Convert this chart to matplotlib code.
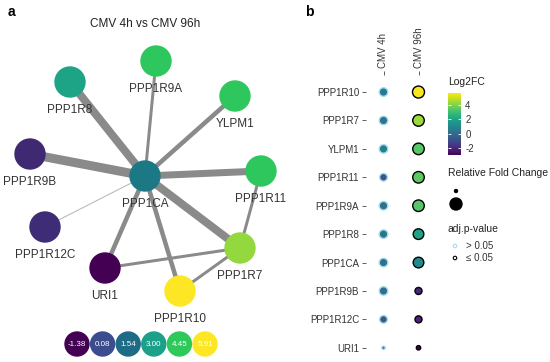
import matplotlib
matplotlib.use("Agg")
import matplotlib.pyplot as plt
import numpy as np
from matplotlib.colors import LinearSegmentedColormap, Normalize
from matplotlib.cm import ScalarMappable
from matplotlib.patches import Circle

plt.rcParams['font.family'] = ['Liberation Sans', 'DejaVu Sans']
plt.rcParams['axes.unicode_minus'] = False

W, H = 550, 362

# ---- panel a: interaction network ----
nodes = ["PPP1CA", "PPP1R9A", "PPP1R8", "YLPM1", "PPP1R9B",
         "PPP1R11", "PPP1R12C", "URI1", "PPP1R10", "PPP1R7"]
node_fc = [1.90, 4.40, 3.10, 4.40, -0.60, 4.40, -0.55, -1.38, 5.91, 5.15]
# layout of the network (pixels)
node_x = [145, 156, 70, 235, 30, 261, 45, 105, 180, 240]
node_y = [176, 61, 82, 96, 154, 171, 227, 268, 291, 248]

edge_a = ["PPP1CA"] * 9 + ["PPP1R11", "URI1", "PPP1R10"]
edge_b = ["PPP1R8", "PPP1R9A", "YLPM1", "PPP1R9B", "PPP1R11", "PPP1R12C",
          "URI1", "PPP1R10", "PPP1R7", "PPP1R7", "PPP1R7", "PPP1R7"]
edge_score = [8, 3, 4.5, 9, 7, 1, 4.5, 4.5, 8, 3, 3, 3]

legend_vals = [-1.38, 0.08, 1.54, 3.00, 4.45, 5.91]
legend_cols = ["#440154", "#3b4d8f", "#1e6b85", "#1ca08a", "#2ec95b", "#fde725"]

# ---- panel b: dot plot ----
genes = ["PPP1R10", "PPP1R7", "YLPM1", "PPP1R11", "PPP1R9A",
         "PPP1R8", "PPP1CA", "PPP1R9B", "PPP1R12C", "URI1"]
conditions = ["CMV 4h", "CMV 96h"]
fc_4h = [0.5, 0.4, 0.7, -0.7, 0.3, 0.4, 0.2, 0.2, -0.6, -0.4]
fc_96h = [5.6, 4.4, 3.4, 3.5, 3.4, 2.0, 1.1, -2.0, -2.1, -3.0]
rel_4h = [0.62, 0.62, 0.62, 0.52, 0.62, 0.62, 0.62, 0.62, 0.52, 0.05]
rel_96h = [1.0, 0.95, 0.95, 0.95, 0.95, 0.85, 0.85, 0.45, 0.45, 0.15]
sig_4h = [False] * 10
sig_96h = [True] * 10


def fx(x):
    return x / W


def fy(y):
    return 1 - y / H


def dot_size(rel):
    d = 3 + 9 * np.asarray(rel)  # diameter in px
    return (d * 0.72) ** 2


fig = plt.figure(figsize=(5.5, 3.62), dpi=100)

# background axes in pixel coordinates for the network and legends
ax = fig.add_axes([0, 0, 1, 1])
ax.set_xlim(0, W)
ax.set_ylim(H, 0)
ax.axis("off")

stops = [(v - legend_vals[0]) / (legend_vals[-1] - legend_vals[0]) for v in legend_vals]
net_cmap = LinearSegmentedColormap.from_list("cyto", list(zip(stops, legend_cols)))
net_norm = Normalize(legend_vals[0], legend_vals[-1])

pos = {n: (x, y) for n, x, y in zip(nodes, node_x, node_y)}
for a, b, s in zip(edge_a, edge_b, edge_score):
    col = "#b5b5b5" if s < 2 else "#8a8a8a"
    ax.plot([pos[a][0], pos[b][0]], [pos[a][1], pos[b][1]],
            color=col, lw=s * 0.72, solid_capstyle="butt", zorder=1)

for n, v in zip(nodes, node_fc):
    x, y = pos[n]
    ax.add_patch(Circle((x, y), 15, color=net_cmap(net_norm(v)), zorder=2))
    ax.text(x, y + 28, n, ha="center", va="center", fontsize=8.5,
            color="#333333", zorder=3)

ax.text(145, 24, "CMV 4h vs CMV 96h", ha="center", va="center",
        fontsize=8.5, color="#222222")

for i, (v, c) in enumerate(zip(legend_vals, legend_cols)):
    cx = 77 + i * 25.6
    ax.add_patch(Circle((cx, 344), 12, color=c, zorder=2))
    ax.text(cx, 344, f"{v:.2f}", ha="center", va="center", fontsize=5.8,
            color="white", zorder=3)

ax.text(8, 12, "a", fontsize=10, fontweight="bold", ha="left", va="center")
ax.text(305, 12, "b", fontsize=10, fontweight="bold", ha="left", va="center")

# dot plot
dax = fig.add_axes([fx(366), 0, 73.5 / W, (H - 75) / H])
vmin, vmax = -3.0, 5.7
yy = np.arange(len(genes))
for j, (fc, rel, sig) in enumerate([(fc_4h, rel_4h, sig_4h), (fc_96h, rel_96h, sig_96h)]):
    ec = ["black" if s else "#a8dcee" for s in sig]
    dax.scatter(np.full(len(genes), j), yy, s=dot_size(rel), c=fc, cmap="viridis",
                vmin=vmin, vmax=vmax, edgecolors=ec, linewidths=1.0, zorder=3)
dax.set_xlim(-0.5, 1.6)
dax.set_ylim(9.5, -0.6)
dax.set_yticks(yy)
dax.set_yticklabels(genes)
dax.set_xticks([0, 1])
dax.set_xticklabels(conditions, rotation=90)
dax.xaxis.tick_top()
dax.tick_params(length=3, width=0.6, color="#444444", labelsize=7,
                labelcolor="#333333", pad=2)
for sp in dax.spines.values():
    sp.set_visible(False)
dax.patch.set_alpha(0)

# colour bar
cax = fig.add_axes([fx(448), fy(155), 13 / W, 62 / H])
sm = ScalarMappable(norm=Normalize(vmin, vmax), cmap="viridis")
cb = fig.colorbar(sm, cax=cax)
cb.outline.set_visible(False)
cb.set_ticks([-2, 0, 2, 4])
cax.tick_params(length=0, labelsize=7, labelcolor="#333333", pad=3)
cax.hlines([-2, 0, 2, 4], 0, 0.2, colors="white", lw=0.6)
cax.hlines([-2, 0, 2, 4], 0.8, 1, colors="white", lw=0.6)

ax.text(448, 82, "Log2FC", fontsize=7.5, ha="left", va="center", color="#222222")
ax.text(448, 173, "Relative Fold Change", fontsize=7.5, ha="left", va="center",
        color="#222222")
ax.scatter([456, 456], [191, 204], s=dot_size([0, 1]), color="black", zorder=3)
ax.text(448, 229, "adj.p-value", fontsize=7.5, ha="left", va="center",
        color="#222222")
ax.scatter([455, 455], [246, 258], s=(3.5 * 0.72) ** 2, facecolors="none",
           edgecolors=["#a8dcee", "black"], linewidths=0.8, zorder=3)
ax.text(466, 246, "> 0.05", fontsize=7, ha="left", va="center", color="#333333")
ax.text(466, 258, "≤ 0.05", fontsize=7, ha="left", va="center", color="#333333")

fig.savefig("out.png", dpi=100)
